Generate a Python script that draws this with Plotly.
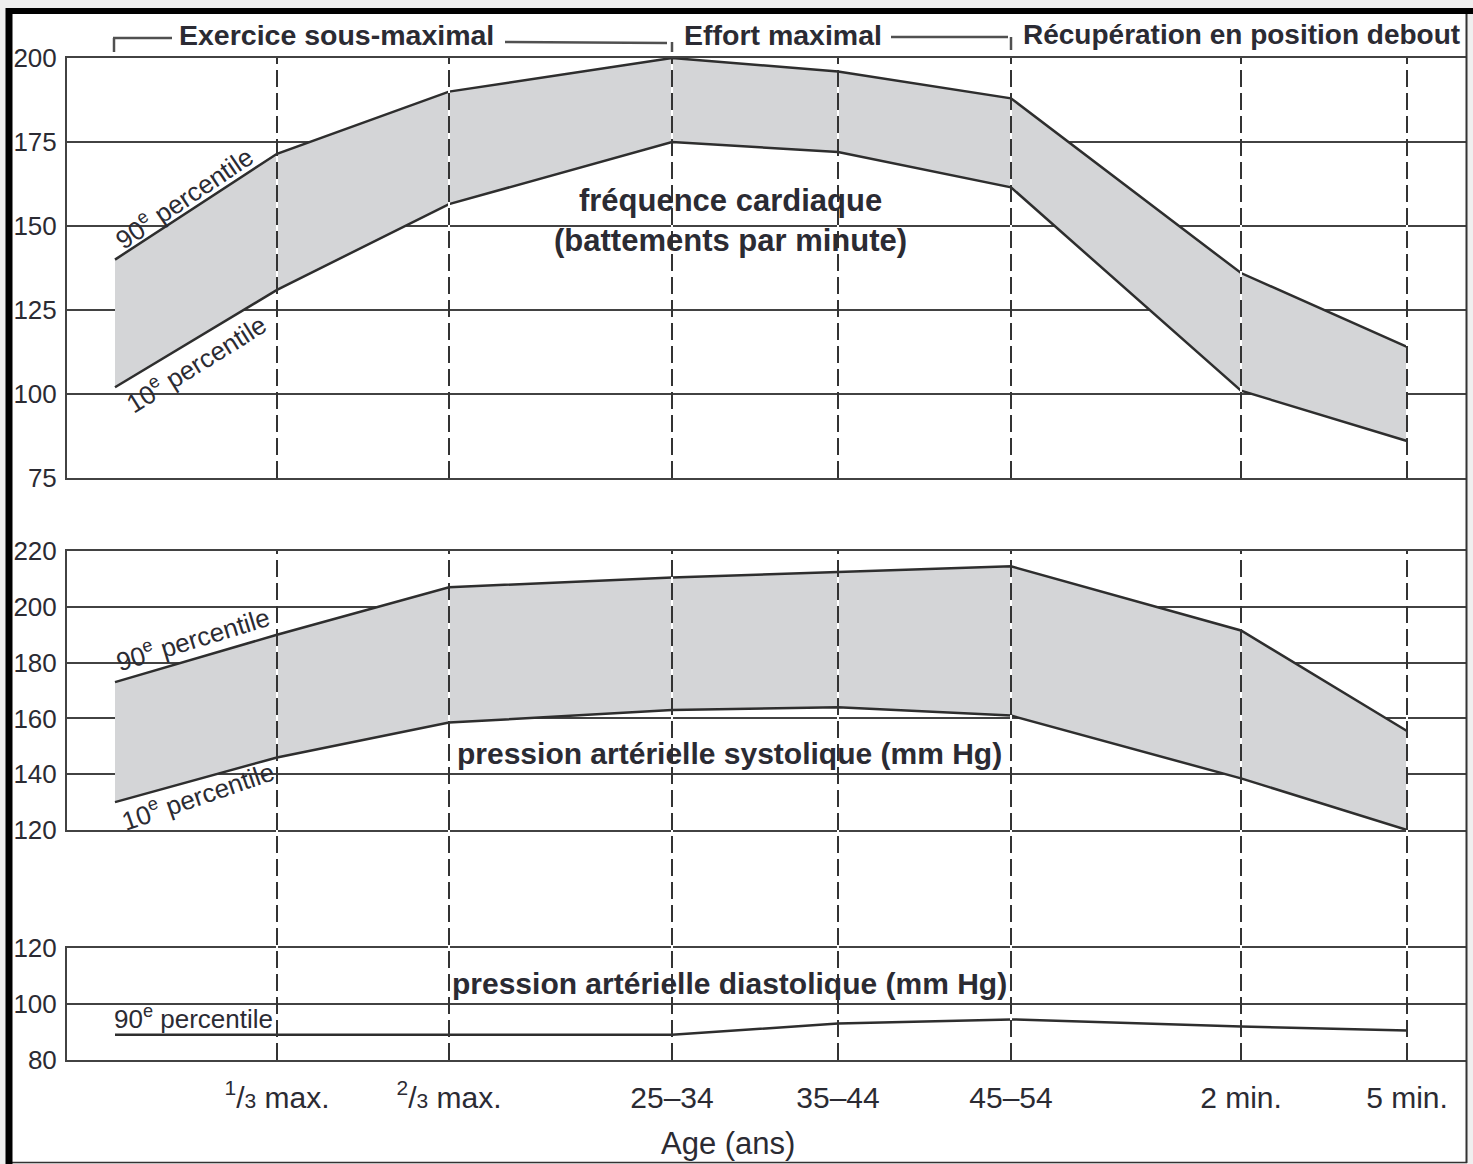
import plotly.graph_objects as go

# ---------------- data ----------------
stage_pos = [0, 162, 334, 557, 723, 896, 1126, 1292]   # horizontal placement of the stages
stage_labels = ["",
                "<sup>1</sup>/<span style='font-size:21px'>3</span> max.",
                "<sup>2</sup>/<span style='font-size:21px'>3</span> max.",
                "25–34", "35–44", "45–54", "2 min.", "5 min."]

hr_p90 = [140, 171.5, 190, 200, 196, 188, 136, 114]
hr_p10 = [102, 131, 156.5, 175, 172, 161.5, 101, 86]

sys_p90 = [173, 190, 207, 210.5, 212.5, 214.5, 191.5, 155.5]
sys_p10 = [130, 146, 158.5, 163, 164, 161, 138.5, 120]

dia_p90 = [89, 89, 89, 89, 93, 94.5, 92, 90.5]

hr_ticks = [75, 100, 125, 150, 175, 200]
sys_ticks = [120, 140, 160, 180, 200, 220]
dia_ticks = [80, 100, 120]

# ---------------- layout helpers ----------------
W, H = 1473, 1164
ML, MR, MT, MB = 67, 7, 58, 104
PW, PH = W - ML - MR, H - MT - MB


def px_x(p):
    return (p - ML) / PW


def px_y(p):
    return (H - MB - p) / PH


TXT = "#2b2b33"
LINE = "#2e2e2e"
GRID = "#424242"
FILL = "#d4d5d7"
REG = "Liberation Sans, Arial, sans-serif"

dom1 = [px_y(478), px_y(58)]
dom2 = [px_y(830), px_y(551)]
dom3 = [px_y(1060), px_y(948)]

fig = go.Figure()


def band(lo, hi, ax):
    xa = "x" if ax == "" else "x" + ax
    ya = "y" if ax == "" else "y" + ax
    if lo is not None:
        fig.add_trace(go.Scatter(x=stage_pos, y=lo, xaxis=xa, yaxis=ya, mode="lines",
                                 line=dict(color=LINE, width=2.5), showlegend=False,
                                 hoverinfo="skip"))
        fig.add_trace(go.Scatter(x=stage_pos, y=hi, xaxis=xa, yaxis=ya, mode="lines",
                                 fill="tonexty", fillcolor=FILL,
                                 line=dict(color=LINE, width=2.5), showlegend=False,
                                 hoverinfo="skip"))
    else:
        fig.add_trace(go.Scatter(x=stage_pos, y=hi, xaxis=xa, yaxis=ya, mode="lines",
                                 line=dict(color=LINE, width=2.5), showlegend=False,
                                 hoverinfo="skip"))


band(hr_p10, hr_p90, "")
band(sys_p10, sys_p90, "2")
band(None, dia_p90, "3")

xr = [ML - 115, W - MR - 115]
xcommon = dict(range=xr, showgrid=False, zeroline=False, showline=True, mirror=True,
               linecolor=GRID, linewidth=2, ticks="", tickvals=stage_pos, automargin=False)


def yax(dom, ticks, anchor):
    return dict(domain=dom, range=[ticks[0], ticks[-1]], tickvals=ticks, anchor=anchor,
                showgrid=True, gridcolor=GRID, gridwidth=2, zeroline=False,
                showline=True, linecolor=GRID, linewidth=2, ticks="", automargin=False,
                ticklabelstandoff=3, tickfont=dict(family=REG, size=26, color=TXT))


fig.update_layout(
    width=W, height=H,
    margin=dict(l=ML, r=MR, t=MT, b=MB, autoexpand=False),
    paper_bgcolor="#efefef", plot_bgcolor="rgba(0,0,0,0)",
    showlegend=False,
    xaxis=dict(xcommon, anchor="y", showticklabels=False),
    xaxis2=dict(xcommon, anchor="y2", matches="x", showticklabels=False),
    xaxis3=dict(xcommon, anchor="y3", matches="x", showticklabels=True,
                ticktext=stage_labels, ticklabelstandoff=10,
                tickfont=dict(family=REG, size=30, color=TXT)),
    yaxis=yax(dom1, hr_ticks, "x"),
    yaxis2=yax(dom2, sys_ticks, "x2"),
    yaxis3=yax(dom3, dia_ticks, "x3"),
)

shapes = []
# frame
shapes.append(dict(type="rect", xref="paper", yref="paper", layer="below",
                   x0=px_x(12), x1=px_x(1467), y0=px_y(1162), y1=px_y(14),
                   fillcolor="white", line=dict(width=0)))
shapes.append(dict(type="line", xref="paper", yref="paper", x0=px_x(1466.5), x1=px_x(1466.5),
                   y0=px_y(1163), y1=px_y(14), line=dict(color="#333", width=2)))
shapes.append(dict(type="line", xref="paper", yref="paper", x0=px_x(12), x1=px_x(1467),
                   y0=px_y(1162.5), y1=px_y(1162.5), line=dict(color="#333", width=1.5)))
shapes.append(dict(type="line", xref="paper", yref="paper", x0=px_x(9), x1=px_x(9),
                   y0=px_y(1164), y1=px_y(8), line=dict(color="black", width=7)))
shapes.append(dict(type="line", xref="paper", yref="paper", x0=px_x(6), x1=px_x(1473),
                   y0=px_y(11), y1=px_y(11), line=dict(color="black", width=6)))

# vertical dashed stage lines
for xp in stage_pos[1:]:
    for (ya, yb) in [(dom1[0], dom1[1]), (dom3[0], dom2[1])]:
        shapes.append(dict(type="line", xref="x", yref="paper", x0=xp, x1=xp, y0=ya, y1=yb,
                           layer="above", line=dict(color="white", width=2)))
        shapes.append(dict(type="line", xref="x", yref="paper", x0=xp, x1=xp, y0=ya, y1=yb,
                           layer="above", line=dict(color="#333", width=2, dash="17px,6px")))

# header brackets
brk = dict(color="#505050", width=2.5)
for (xa, ya_, xb, yb_) in [(113, 38, 172, 38), (114, 38, 114, 52),
                           (505, 42, 667, 43), (672, 42, 672, 52),
                           (891, 37, 1008, 37), (1011, 37, 1011, 50)]:
    shapes.append(dict(type="line", xref="paper", yref="paper", x0=px_x(xa), x1=px_x(xb),
                       y0=px_y(ya_), y1=px_y(yb_), line=brk))
fig.update_layout(shapes=shapes)

ann = []


def label(text, cx, cy, size, angle=0, bold=False):
    ann.append(dict(text=("<b>%s</b>" % text) if bold else text, xref="paper", yref="paper",
                    x=px_x(cx), y=px_y(cy), xanchor="center", yanchor="middle",
                    showarrow=False, textangle=angle,
                    font=dict(family=REG, size=size, color=TXT)))


label("Exercice sous-maximal", 336, 35, 28.5, bold=True)
label("Effort maximal", 783, 35, 28.5, bold=True)
label("Récupération en position debout", 1241, 35, 28, bold=True)

label("fréquence cardiaque<br>(battements par minute)", 730, 221, 31, bold=True)
label("pression artérielle systolique (mm Hg)", 729, 753, 30, bold=True)
label("pression artérielle diastolique (mm Hg)", 729, 983, 30, bold=True)

for txt, cx, cy, ang in [("90<sup>e</sup> percentile", 183, 197, -34),
                         ("10<sup>e</sup> percentile", 195, 363, -32),
                         ("90<sup>e</sup> percentile", 192, 638, -17),
                         ("10<sup>e</sup> percentile", 197, 795, -19),
                         ("90<sup>e</sup> percentile", 193, 1017, 0)]:
    label(txt, cx, cy, 26, angle=ang)

label("Age (ans)", 728, 1143, 31)
fig.update_layout(annotations=ann)

fig.write_html("out.html", config={"displayModeBar": False},
               post_script="document.body.style.margin='0';")
